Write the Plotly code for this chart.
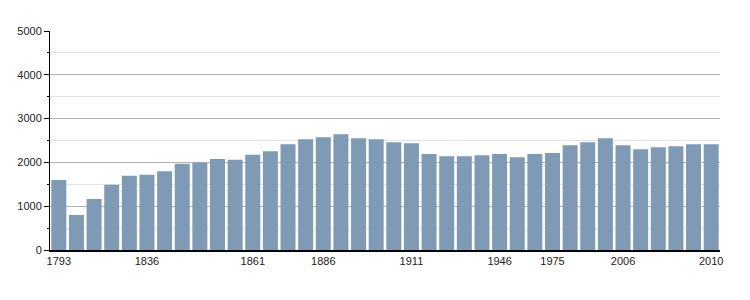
import plotly.graph_objects as go

years = ["1793", "1800", "1806", "1821", "1831", "1836", "1841", "1846", "1851", "1856",
         "1858", "1861", "1866", "1872", "1876", "1886", "1891", "1896", "1901", "1906",
         "1911", "1921", "1926", "1931", "1936", "1946", "1954", "1962", "1975", "1982",
         "1990", "1999", "2006", "2007", "2008", "2009", "2009b", "2010"]
population = [1600, 800, 1165, 1490, 1695, 1718, 1800, 1968, 1999, 2075,
              2060, 2174, 2257, 2417, 2531, 2576, 2645, 2554, 2531, 2462,
              2440, 2189, 2143, 2143, 2166, 2189, 2120, 2189, 2212, 2394,
              2462, 2554, 2394, 2303, 2348, 2371, 2417, 2417]
tick_labels = ["1793", "1836", "1861", "1886", "1911", "1946", "1975", "2006", "2010"]

positions = list(range(len(years)))
tick_positions = [years.index(t) for t in tick_labels]

fig = go.Figure(go.Bar(
    x=positions, y=population,
    marker=dict(color="#7f9ab4", line=dict(width=0)),
    hovertext=years,
))

fig.update_layout(
    width=750, height=300,
    margin=dict(l=50, r=30, t=31, b=50),
    plot_bgcolor="white", paper_bgcolor="white",
    bargap=0.15,
    showlegend=False,
    font=dict(family="Liberation Sans, Arial, sans-serif", size=11, color="#222"),
    xaxis=dict(
        range=[-0.5, len(years) - 0.5],
        tickvals=tick_positions, ticktext=tick_labels,
        showgrid=False, ticks="", ticklen=0,
        showline=True, linecolor="black", linewidth=2,
        zeroline=False,
        tickfont=dict(size=11, color="#222"),
    ),
    yaxis=dict(
        range=[0, 5000], dtick=1000,
        showgrid=True, gridcolor="#b3b3b3", gridwidth=1,
        ticks="outside", ticklen=5, tickcolor="black",
        showline=True, linecolor="black", linewidth=1,
        zeroline=False,
        tickfont=dict(size=11, color="#222"),
        minor=dict(dtick=500, ticks="outside", ticklen=2, tickcolor="black",
                   showgrid=True, gridcolor="#e3e3e3", gridwidth=1),
    ),
)

fig.write_html("out.html")
